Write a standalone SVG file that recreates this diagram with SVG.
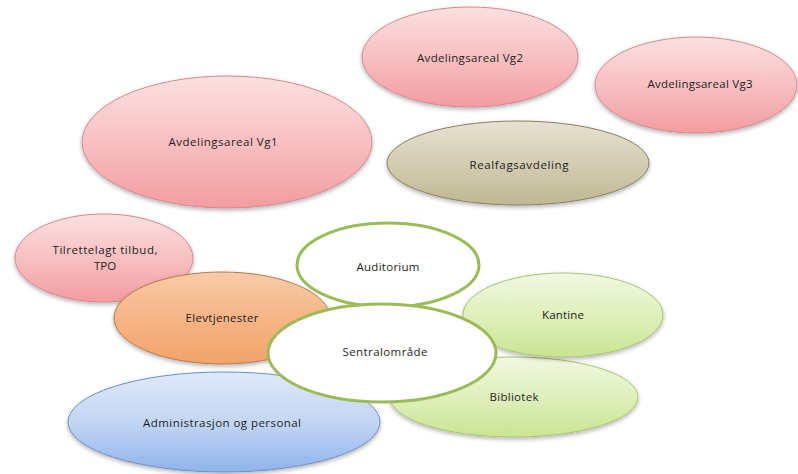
<svg xmlns="http://www.w3.org/2000/svg" width="798" height="474" viewBox="0 0 798 474">
  <defs>
    <linearGradient id="gPink" x1="0" y1="0" x2="0" y2="1">
      <stop offset="0" stop-color="#fde0e0"/>
      <stop offset="0.5" stop-color="#f8c0c2"/>
      <stop offset="1" stop-color="#f29ca1"/>
    </linearGradient>
    <linearGradient id="gOlive" x1="0" y1="0" x2="0" y2="1">
      <stop offset="0" stop-color="#e6e2d2"/>
      <stop offset="0.5" stop-color="#d3cdb2"/>
      <stop offset="1" stop-color="#bfb893"/>
    </linearGradient>
    <linearGradient id="gOrange" x1="0" y1="0" x2="0" y2="1">
      <stop offset="0" stop-color="#f9cba8"/>
      <stop offset="0.5" stop-color="#f6b585"/>
      <stop offset="1" stop-color="#f2a36a"/>
    </linearGradient>
    <linearGradient id="gBlue" x1="0" y1="0" x2="0" y2="1">
      <stop offset="0" stop-color="#dfe9f9"/>
      <stop offset="0.5" stop-color="#c3d6f4"/>
      <stop offset="1" stop-color="#8fb3ec"/>
    </linearGradient>
    <linearGradient id="gGreen" x1="0" y1="0" x2="0" y2="1">
      <stop offset="0" stop-color="#f0f8e0"/>
      <stop offset="0.5" stop-color="#dff0bc"/>
      <stop offset="1" stop-color="#c9e592"/>
    </linearGradient>
    <filter id="shadow" x="-10%" y="-10%" width="120%" height="130%">
      <feDropShadow dx="0" dy="2" stdDeviation="2" flood-color="#000" flood-opacity="0.3"/>
    </filter>
  </defs>
  <style>
    .pink { fill: url(#gPink); stroke: #d4898d; stroke-width: 1; filter: url(#shadow); }
    .olive { fill: url(#gOlive); stroke: #8a8262; stroke-width: 1; filter: url(#shadow); }
    .orange { fill: url(#gOrange); stroke: #b9794a; stroke-width: 1; filter: url(#shadow); }
    .blue { fill: url(#gBlue); stroke: #6f8fc2; stroke-width: 1; filter: url(#shadow); }
    .green { fill: url(#gGreen); stroke: #a6c670; stroke-width: 1; filter: url(#shadow); }
    .white { fill: #ffffff; stroke: #9bbb59; stroke-width: 3; }
    text { font-family: "Open Sans", "Liberation Sans", sans-serif; font-size: 11.5px; fill: #1e1e1e; text-anchor: middle; }
  </style>
  <rect width="798" height="474" fill="#ffffff"/>

  <g id="vg1">
    <ellipse class="pink" cx="227" cy="142" rx="145" ry="66"/>
    <text x="223" y="146" textLength="109" lengthAdjust="spacing">Avdelingsareal Vg1</text>
  </g>
  <g id="vg2">
    <ellipse class="pink" cx="470" cy="57" rx="108" ry="50"/>
    <text x="470" y="62" textLength="106" lengthAdjust="spacing">Avdelingsareal Vg2</text>
  </g>
  <g id="vg3">
    <ellipse class="pink" cx="696" cy="85" rx="101" ry="48"/>
    <text x="700" y="88" textLength="105" lengthAdjust="spacing">Avdelingsareal Vg3</text>
  </g>
  <g id="realfag">
    <ellipse class="olive" cx="518" cy="163" rx="131" ry="42"/>
    <text x="519" y="169" textLength="99" lengthAdjust="spacing">Realfagsavdeling</text>
  </g>
  <g id="tilrettelagt">
    <ellipse class="pink" cx="104" cy="258" rx="89" ry="44"/>
    <text x="105" y="254" textLength="105" lengthAdjust="spacing">Tilrettelagt tilbud,</text>
    <text x="105" y="270">TPO</text>
  </g>
  <g id="administrasjon">
    <ellipse class="blue" cx="224" cy="422" rx="156" ry="50"/>
    <text x="222" y="427" textLength="158" lengthAdjust="spacing">Administrasjon og personal</text>
  </g>
  <g id="elevtjenester">
    <ellipse class="orange" cx="222" cy="318" rx="108" ry="46"/>
    <text x="222" y="322" textLength="73" lengthAdjust="spacing">Elevtjenester</text>
  </g>
  <g id="auditorium">
    <ellipse class="white" cx="388" cy="265" rx="91" ry="42"/>
    <text x="388" y="271" textLength="63" lengthAdjust="spacing">Auditorium</text>
  </g>
  <g id="bibliotek">
    <ellipse class="green" cx="514" cy="397" rx="124" ry="40"/>
    <text x="514" y="401" textLength="49" lengthAdjust="spacing">Bibliotek</text>
  </g>
  <g id="kantine">
    <ellipse class="green" cx="563" cy="315" rx="100" ry="42"/>
    <text x="563" y="319" textLength="42" lengthAdjust="spacing">Kantine</text>
  </g>
  <g id="sentralomrade">
    <ellipse class="white" cx="382" cy="353" rx="114" ry="49"/>
    <text x="385" y="356" textLength="85" lengthAdjust="spacing">Sentralområde</text>
  </g>

  <g id="connectors"/>
</svg>
